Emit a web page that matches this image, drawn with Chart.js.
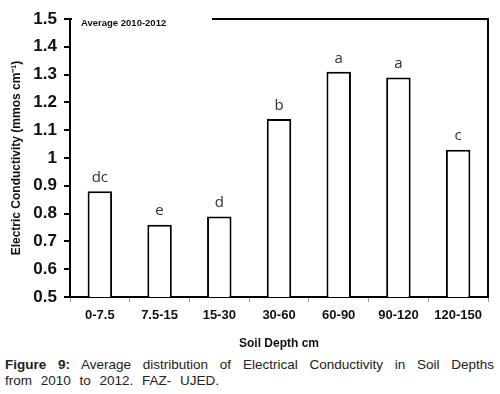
<!DOCTYPE html>
<html>
<head>
<meta charset="utf-8">
<script src="https://cdn.jsdelivr.net/npm/chart.js"></script>
<style>
  body { margin: 0; background: #fff; width: 500px; height: 394px; overflow: hidden; position: relative; }
  #wrap { position: absolute; left: 0; top: 0; width: 500px; height: 355px; }
  #caption {
    position: absolute; left: 5px; top: 357px; width: 489px;
    font-family: "Liberation Sans", Arial, sans-serif; font-size: 13.5px; line-height: 16px;
    color: #222;
  }
  #caption .first { text-align: justify; text-align-last: justify; }
  #caption .second { word-spacing: 5px; }
</style>
</head>
<body>
<div id="wrap"><canvas id="chart"></canvas></div>
<div id="caption">
  <div class="first"><b>Figure 9:</b> Average distribution of Electrical Conductivity in Soil Depths</div>
  <div class="second">from 2010 to 2012. FAZ- UJED.</div>
</div>
<script>
const depths = ['0-7.5', '7.5-15', '15-30', '30-60', '60-90', '90-120', '120-150'];
const conductivity = [0.88, 0.76, 0.79, 1.14, 1.31, 1.29, 1.03];
const letters = ['dc', 'e', 'd', 'b', 'a', 'a', 'c'];

//Draws the letters over the bars, the frame and the inner label
const extras = {
    id: 'extras',
    afterDatasetsDraw(chart) {
        const ctx = chart.ctx;
        const area = chart.chartArea;
        const meta = chart.getDatasetMeta(0);
        ctx.save();
        ctx.font = '15px "Open Sans", sans-serif';
        ctx.fillStyle = '#333';
        ctx.textAlign = 'center';
        ctx.textBaseline = 'bottom';
        meta.data.forEach((bar, i) => {
            ctx.fillText(letters[i], bar.x, bar.y - 6);
        });

        ctx.strokeStyle = '#000';
        ctx.lineWidth = 2;
        ctx.beginPath();
        ctx.moveTo(area.left, area.top);
        ctx.lineTo(area.right, area.top);
        ctx.lineTo(area.right, area.bottom);
        ctx.stroke();

        ctx.fillStyle = '#fff';
        ctx.fillRect(area.left + 2, area.top - 3, 140, 16);
        ctx.fillStyle = '#111';
        ctx.font = 'bold 9.5px "Liberation Sans", Arial, sans-serif';
        ctx.textAlign = 'left';
        ctx.textBaseline = 'middle';
        ctx.fillText('Average 2010-2012', area.left + 11, area.top + 4);
        ctx.restore();
    }
};

new Chart(document.getElementById('chart'), {
    type: 'bar',
    data: {
        labels: depths,
        datasets: [{
            data: conductivity,
            backgroundColor: '#fff',
            borderColor: '#000',
            borderWidth: 2,
            barPercentage: 0.41,
            categoryPercentage: 1
        }]
    },
    options: {
        responsive: true,
        maintainAspectRatio: false,
        animation: false,
        layout: { padding: { top: 19, right: 12, left: 0, bottom: 0 } },
        plugins: { legend: { display: false }, tooltip: { enabled: false } },
        scales: {
            x: {
                grid: { drawOnChartArea: false, tickLength: 5, color: '#999' },
                border: { color: '#000', width: 2 },
                ticks: { color: '#111', font: { family: '"Liberation Sans", Arial', size: 13, weight: 'bold' }, padding: 6 },
                title: {
                    display: true, text: 'Soil Depth cm', color: '#111',
                    font: { family: '"Liberation Sans", Arial', size: 12, weight: 'bold' },
                    padding: { top: 7 }
                }
            },
            y: {
                min: 0.5, max: 1.5,
                grid: { drawOnChartArea: false, tickLength: 6, color: '#000', lineWidth: 2 },
                border: { color: '#000', width: 2 },
                ticks: { stepSize: 0.1, color: '#111', font: { family: '"Liberation Sans", Arial', size: 17, weight: 'bold' }, padding: 7,
                    callback: v => Number(v.toFixed(1)).toString() },
                title: {
                    display: true, text: 'Electric Conductivity (mmos cm⁻¹)', color: '#111',
                    font: { family: '"Liberation Sans", Arial', size: 12, weight: 'bold' },
                    padding: { top: 9, bottom: 0 }
                },
                afterFit: scale => { scale.width = 70; }
            }
        }
    },
    plugins: [extras]
});
</script>
</body>
</html>
